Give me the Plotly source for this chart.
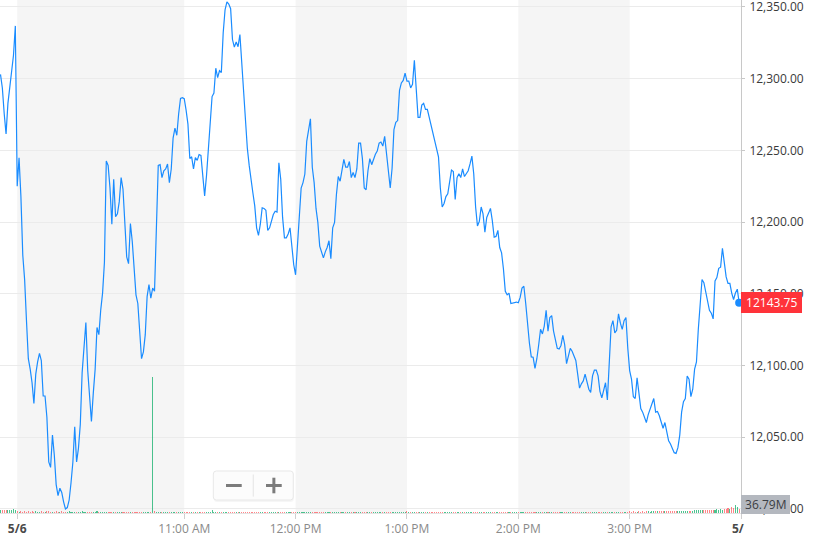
import pandas as pd
import plotly.graph_objects as go

# ---------------- data ----------------
session_date = "2022-05-06"
start_time = "09:21"          # first 1-minute bar

close = [
    12303.0, 12293.5, 12275.5, 12261.5, 12282.75, 12293.5, 12306.75, 12316.25, 12336.75, 12225.0,
    12244.75, 12217.75, 12177.0, 12160.0, 12131.25, 12104.75, 12097.5, 12088.0, 12073.5, 12094.0,
    12102.5, 12108.5, 12103.5, 12078.75, 12078.75, 12064.0, 12032.75, 12029.0, 12051.5, 12037.5,
    12017.0, 12009.25, 12014.5, 12011.5, 12005.0, 12000.0, 12001.0, 12006.25, 12018.25, 12032.75,
    12057.25, 12032.75, 12042.25, 12059.0, 12095.25, 12116.75, 12130.0, 12096.5, 12080.75, 12061.0,
    12080.75, 12097.5, 12126.5, 12121.5, 12138.5, 12150.5, 12172.0, 12242.5, 12239.5, 12223.75,
    12198.5, 12229.75, 12203.75, 12205.75, 12214.25, 12231.0, 12223.0, 12201.0, 12175.75, 12171.0,
    12199.0, 12186.5, 12166.0, 12149.25, 12143.25, 12119.25, 12104.75, 12109.5, 12121.5, 12148.0,
    12156.5, 12147.0, 12154.0, 12151.75, 12196.0, 12239.5, 12240.0, 12231.0, 12235.75, 12237.0,
    12240.5, 12227.5, 12237.0, 12258.5, 12265.5, 12260.5, 12275.5, 12286.25, 12286.75, 12286.0,
    12278.0, 12268.25, 12244.25, 12245.5, 12237.0, 12245.0, 12243.0, 12247.0, 12246.5, 12231.0,
    12218.25, 12232.25, 12251.5, 12270.75, 12287.5, 12290.0, 12307.25, 12300.75, 12305.5, 12304.25,
    12332.0, 12348.0, 12353.5, 12352.0, 12348.75, 12327.25, 12322.0, 12325.5, 12322.25, 12330.75,
    12309.0, 12287.5, 12270.75, 12251.5, 12239.5, 12228.5, 12220.25, 12211.25, 12196.0, 12190.75,
    12198.5, 12210.0, 12209.5, 12208.25, 12194.25, 12196.0, 12201.5, 12205.25, 12207.5, 12207.0,
    12241.25, 12229.75, 12203.25, 12189.0, 12189.0, 12191.75, 12196.0, 12181.75, 12170.25, 12163.25,
    12184.0, 12208.25, 12223.75, 12227.5, 12233.5, 12256.25, 12266.0, 12272.0, 12238.25, 12227.5,
    12209.5, 12199.75, 12183.25, 12179.25, 12175.0, 12179.25, 12182.25, 12187.0, 12174.5, 12196.0,
    12199.75, 12219.0, 12231.75, 12228.5, 12237.0, 12243.75, 12238.25, 12238.25, 12242.25, 12231.0,
    12234.5, 12231.0, 12237.0, 12255.0, 12255.0, 12244.25, 12223.75, 12222.5, 12235.75, 12244.25,
    12240.0, 12243.75, 12247.25, 12249.5, 12255.0, 12255.75, 12253.0, 12259.75, 12247.75, 12235.75,
    12223.75, 12237.5, 12264.5, 12269.5, 12270.75, 12291.75, 12297.0, 12298.75, 12303.75, 12298.25,
    12298.25, 12293.5, 12296.0, 12312.75, 12296.0, 12273.0, 12273.0, 12281.5, 12282.75, 12278.5,
    12278.5, 12273.0, 12267.75, 12262.25, 12255.75, 12252.5, 12245.5, 12223.75, 12210.5, 12213.0,
    12217.75, 12219.75, 12229.75, 12236.25, 12235.25, 12215.75, 12231.0, 12233.75, 12231.0, 12237.0,
    12231.75, 12233.5, 12235.75, 12240.5, 12246.0, 12233.5, 12210.5, 12197.25, 12200.5, 12210.5,
    12205.75, 12193.0, 12203.25, 12206.25, 12209.5, 12201.0, 12189.5, 12190.0, 12194.25, 12182.25,
    12178.5, 12167.25, 12151.75, 12149.25, 12150.5, 12143.25, 12143.75, 12143.75, 12144.25, 12143.75,
    12147.5, 12154.0, 12155.25, 12143.25, 12126.5, 12115.5, 12106.0, 12105.75, 12098.0, 12104.75,
    12114.5, 12125.25, 12122.0, 12127.5, 12138.5, 12124.0, 12133.5, 12134.75, 12124.0, 12116.75,
    12112.0, 12111.5, 12114.0, 12121.0, 12114.5, 12101.25, 12107.25, 12112.0, 12110.0, 12107.25,
    12103.5, 12094.0, 12084.25, 12087.25, 12089.25, 12094.0, 12088.0, 12083.5, 12081.25, 12092.75,
    12096.75, 12096.75, 12092.75, 12082.0, 12077.5, 12083.0, 12088.0, 12076.0, 12106.0, 12127.0,
    12131.25, 12122.75, 12124.5, 12136.0, 12129.5, 12125.25, 12131.25, 12133.5, 12112.0, 12096.5,
    12090.5, 12078.25, 12077.0, 12091.5, 12080.75, 12070.0, 12067.5, 12064.0, 12060.25, 12065.75,
    12070.0, 12074.25, 12077.0, 12067.5, 12068.0, 12065.0, 12060.25, 12056.25, 12060.25, 12053.0,
    12047.5, 12045.25, 12042.75, 12039.25, 12038.75, 12042.75, 12051.5, 12067.5, 12074.75, 12077.0,
    12092.75, 12090.5, 12078.25, 12083.5, 12097.5, 12102.5, 12125.25, 12147.0, 12160.0, 12157.75,
    12150.5, 12144.25, 12138.5, 12136.5, 12132.5, 12159.0, 12161.25, 12167.75, 12168.5, 12181.75,
    12171.0, 12161.75, 12157.25, 12157.25, 12150.5, 12146.0, 12150.5, 12153.25, 12143.75,
]

volume = [
    640, 580, 700, 520, 610, 660, 590, 720, 680, 330, 290, 340, 270, 310, 300, 360, 280, 320, 290, 310,
    300, 270, 320, 290, 280, 310, 340, 260, 290, 270, 310, 300, 280, 320, 290, 270, 300, 310, 280, 290,
    270, 300, 290, 260, 310, 280, 270, 290, 300, 260, 280, 270, 310, 250, 290, 270, 260, 280, 300, 270,
    260, 280, 250, 270, 290, 240, 260, 270, 250, 280, 260, 240, 270, 250, 260, 230, 250, 270, 240, 260,
    250, 240, 27200, 330, 230, 250, 240, 220, 260, 230, 250, 220, 240, 230, 210, 250, 220, 230, 240, 220,
    210, 230, 200, 220, 240, 210, 200, 230, 210, 220, 200, 190, 210, 230, 520, 200, 210, 190, 220, 200,
    230, 210, 240, 220, 200, 210, 190, 220, 200, 210, 190, 200, 180, 210, 190, 200, 180, 190, 210, 180,
    190, 180, 200, 170, 190, 180, 200, 170, 180, 190, 200, 180, 170, 190, 180, 170, 190, 180, 200, 210,
    190, 180, 170, 190, 180, 200, 190, 170, 180, 190, 170, 180, 160, 190, 170, 180, 160, 170, 190, 180,
    170, 160, 180, 170, 190, 160, 170, 180, 160, 170, 180, 160, 170, 150, 180, 160, 170, 160, 150, 170,
    160, 170, 150, 180, 160, 170, 150, 160, 170, 150, 160, 170, 180, 160, 170, 180, 190, 170, 180, 420,
    200, 180, 190, 210, 180, 170, 190, 180, 160, 170, 180, 190, 170, 160, 180, 170, 190, 180, 200, 180,
    170, 190, 180, 170, 160, 180, 170, 190, 180, 170, 160, 180, 170, 190, 180, 200, 190, 210, 180, 190,
    180, 170, 190, 180, 200, 190, 180, 170, 190, 180, 200, 190, 210, 180, 200, 190, 180, 200, 190, 210,
    200, 190, 210, 200, 190, 220, 200, 210, 190, 220, 210, 200, 230, 210, 220, 200, 230, 210, 220, 240,
    220, 210, 230, 220, 240, 230, 210, 240, 220, 230, 250, 230, 240, 220, 250, 240, 230, 260, 240, 250,
    230, 260, 240, 250, 270, 240, 260, 250, 280, 260, 270, 250, 280, 270, 260, 290, 270, 280, 300, 480,
    290, 310, 300, 280, 320, 300, 310, 290, 330, 310, 300, 340, 320, 310, 350, 330, 340, 360, 340, 370,
    360, 380, 400, 370, 420, 390, 410, 440, 420, 460, 440, 480, 500, 470, 520, 560, 600, 540, 620, 580,
    560, 640, 600, 700, 660, 620, 760, 700, 820, 680, 900, 780, 1100, 860, 1300, 980, 1600, 1200, 900,
]

last_price = 12143.75
volume_label = "36.79M"

x_tick_times = ["09:30", "11:00", "12:00", "13:00", "14:00", "15:00", "16:00"]
x_tick_labels = ["5/6", "11:00 AM", "12:00 PM", "1:00 PM", "2:00 PM", "3:00 PM", "5/"]
x_tick_is_date = [True, False, False, False, False, False, True]
y_ticks = [12000, 12050, 12100, 12150, 12200, 12250, 12300, 12350]
shaded_periods = [("09:30", "11:00"), ("12:00", "13:00"), ("14:00", "15:00")]

# ---------------- build ----------------
times = pd.date_range(f"{session_date} {start_time}", periods=len(close), freq="min")
vol_colors = []
for i, c in enumerate(close):
    up = i == 0 or c >= close[i - 1]
    vol_colors.append("rgba(0,170,95,0.7)" if up else "rgba(255,51,58,0.6)")

BLUE = "#1a8cff"
FONT = "Open Sans"

fig = go.Figure()
fig.add_trace(go.Bar(
    x=times, y=volume, yaxis="y2", marker=dict(color=vol_colors, line=dict(width=0)),
    width=34000, hoverinfo="skip",
))
fig.add_trace(go.Scatter(
    x=times, y=close, mode="lines", line=dict(color=BLUE, width=1.2), hoverinfo="x+y",
))
fig.add_trace(go.Scatter(
    x=[times[-1]], y=[close[-1]], mode="markers", marker=dict(size=8, color=BLUE),
    cliponaxis=False, hoverinfo="skip",
))

ticktext = []
for lab, is_date in zip(x_tick_labels, x_tick_is_date):
    if is_date:
        ticktext.append(f"<span style='color:#4a4a4a'><b>{lab}</b></span>" + ("\u00a0\u00a0" if lab.endswith("/") else ""))
    else:
        ticktext.append(lab)

shapes = []
for a, b in shaded_periods:
    shapes.append(dict(type="rect", xref="x", yref="paper",
                       x0=f"{session_date} {a}", x1=f"{session_date} {b}", y0=0, y1=1,
                       fillcolor="#f5f5f5", line=dict(width=0), layer="below"))


# ---- zoom control ( - / + ), layout decoration in paper coordinates ----
def rounded_rect(x0, x1, y0, y1, rx, ry):
    return (f"M {x0+rx},{y0} L {x1-rx},{y0} Q {x1},{y0} {x1},{y0+ry} "
            f"L {x1},{y1-ry} Q {x1},{y1} {x1-rx},{y1} L {x0+rx},{y1} "
            f"Q {x0},{y1} {x0},{y1-ry} L {x0},{y0+ry} Q {x0},{y0} {x0+rx},{y0} Z")


rx, ry = 3 / 741, 3 / 513
shapes.append(dict(type="path", xref="paper", yref="paper",
                   path=rounded_rect(0.2886, 0.3965, 0.0215, 0.0800, rx, ry),
                   fillcolor="rgba(0,0,0,0.035)", line=dict(width=0), layer="above"))
shapes.append(dict(type="path", xref="paper", yref="paper",
                   path=rounded_rect(0.2879, 0.3958, 0.0253, 0.0819, rx, ry),
                   fillcolor="#fcfcfc", line=dict(color="#e8e8e8", width=1), layer="above"))
shapes.append(dict(type="line", xref="paper", yref="paper", x0=0.3418, x1=0.3418, y0=0.032, y1=0.075,
                   line=dict(color="#e4e4e4", width=1), layer="above"))
icon = dict(color="#7c7c7c", width=3)
shapes.append(dict(type="line", xref="paper", yref="paper", x0=0.3050, x1=0.3262, y0=0.0536, y1=0.0536,
                   line=icon, layer="above"))
shapes.append(dict(type="line", xref="paper", yref="paper", x0=0.3590, x1=0.3802, y0=0.0536, y1=0.0536,
                   line=icon, layer="above"))
shapes.append(dict(type="line", xref="paper", yref="paper", x0=0.3696, x1=0.3696, y0=0.0384, y1=0.0688,
                   line=icon, layer="above"))

annotations = [
    dict(xref="paper", yref="y", x=1.0, y=last_price, xanchor="left", yanchor="middle",
         text="\u00a0" + f"{last_price:.2f}" + "\u00a0", showarrow=False,
         bgcolor="#ff333a", borderpad=2, borderwidth=0, font=dict(family=FONT, size=12, color="white")),
    dict(xref="paper", yref="paper", x=1.0, y=0.0162, xanchor="left", yanchor="middle",
         text="\u00a0" + volume_label + "\u2009", showarrow=False,
         bgcolor="#b4b8bf", borderpad=1, borderwidth=0, font=dict(family=FONT, size=12, color="#3a3d43")),
]

fig.update_layout(
    width=813, height=539,
    margin=dict(l=0, r=72, t=0, b=26, autoexpand=False),
    paper_bgcolor="white", plot_bgcolor="white",
    showlegend=False, bargap=0,
    font=dict(family=FONT, size=12, color="#444"),
    shapes=shapes, annotations=annotations,
    xaxis=dict(
        type="date",
        range=[f"{session_date} 09:20:44", f"{session_date} 16:00:00"],
        tickvals=[f"{session_date} {t}" for t in x_tick_times], ticktext=ticktext,
        showgrid=False, zeroline=False, showline=True, linecolor="#e4e4e4",
        ticks="outside", ticklen=5, tickcolor="#cfcfcf", ticklabeloverflow="allow",
        tickfont=dict(family=FONT, size=12, color="#8a8a8a"), automargin=False,
    ),
    yaxis=dict(
        side="right", range=[11997.2, 12354.8], tickvals=y_ticks, tickformat=",.2f",
        showgrid=True, gridcolor="#ebebeb", gridwidth=1, zeroline=False,
        showline=True, linecolor="#c8c8c8", ticks="outside", ticklen=3, tickcolor="#c8c8c8",
        ticklabelstandoff=2, ticklabeloverflow="allow",
        tickfont=dict(family=FONT, size=12, color="#3a3a3a"), automargin=False,
    ),
    yaxis2=dict(overlaying="y", range=[0, 102600], visible=False),
)

fig.write_html(
    "out.html",
    config={"displayModeBar": False},
    post_script="document.body.style.margin='0';document.body.style.overflow='hidden';",
)
